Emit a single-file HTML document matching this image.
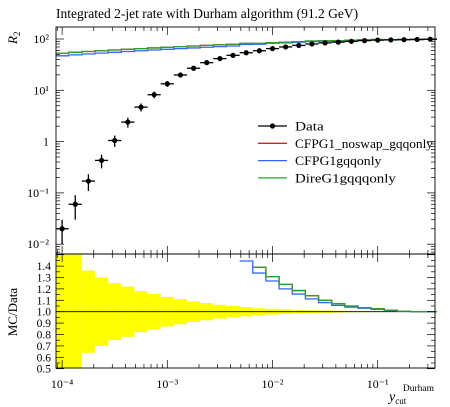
<!DOCTYPE html>
<html><head><meta charset="utf-8"><style>
body{margin:0;background:#fff;}
svg{display:block;font-family:"Liberation Serif",serif;}
</style></head><body>
<svg id="c" width="450" height="407" viewBox="0 0 450 407">
<text x="56" y="18" font-size="13.5">Integrated 2-jet rate with Durham algorithm (91.2 GeV)</text>
<text transform="translate(17,44) rotate(-90)" font-size="13" font-style="italic">R<tspan font-size="9" dy="3" font-style="normal">2</tspan></text>
<text transform="translate(17,312) rotate(-90)" font-size="13" text-anchor="middle">MC/Data</text>
<g>
<text x="389" y="401" font-size="14" font-style="italic">y<tspan font-size="9" dy="3" font-style="normal">cut</tspan></text>
<text x="434" y="391" font-size="9.5" text-anchor="end">Durham</text>
</g>
<g id="g"></g>
</svg>
<script>
const bins = [-4,-3.875,-3.75,-3.625,-3.5,-3.375,-3.25,-3.125,-3,-2.875,-2.75,-2.625,-2.5,-2.375,-2.25,-2.125,-2,-1.875,-1.75,-1.625,-1.5,-1.375,-1.25,-1.125,-1,-0.875,-0.75,-0.625,-0.5];
const dataVals = [0.02,0.06,0.17,0.43,1.05,2.4,4.7,8.2,13.4,19.9,26.9,34.6,41.5,48,54,59,65,70,75,80,84,87,90,93,95,96,97,98,99];
const dataErr = [0.5,0.5,0.36,0.3,0.25,0.22,0.18,0.155,0.13,0.11,0.09,0.075,0.06,0.05,0.04,0.03,0.025,0.02,0.015,0.012,0.01,0.008,0.006,0.005,0.004,0.003,0.003,0.002,0.002];
const mcBlue = [47,49,51,53,55,57,59,61,63,65,67,69,71,73,78,79,82.5,84,86.6,89,90.7,91.8,93.6,95.8,97,97,97.5,98,99];
const mcGreen = [53,55,57,59,61,63,65,67,69,71,73,75,77,79,82,82,85,86.8,88.9,91.2,92.4,93.1,94.5,96.3,97.4,97.2,97.5,98,99];
const mcRed = mcGreen.slice();
const yTicks = ["10⁻²","10⁻¹","1","10¹","10²"];
const rTicks = ["0.5","0.6","0.7","0.8","0.9","1.0","1.1","1.2","1.3","1.4"];
const xTicks = ["10⁻⁴","10⁻³","10⁻²","10⁻¹"];

const L=56,R=435,T=27,MB=254,RB=368;
const dec=105.2, x0=62.1;
const X=lg=>x0+(lg+4)*dec;
const Y=v=>39+(2-Math.log10(v))*51.3;
const YR=r=>311.7-(r-1)*114;
const g=document.getElementById('g');
const NS='http://www.w3.org/2000/svg';
function el(t,a,p){const e=document.createElementNS(NS,t);for(const k in a)e.setAttribute(k,a[k]);(p||g).appendChild(e);return e;}
const hw=0.0625;
bins.forEach((b,i)=>{
  const r=el('rect',{x:X(b-hw),width:X(b+hw)-X(b-hw),y:YR(Math.min(1.5,1+dataErr[i])),height:YR(Math.max(0.5,1-dataErr[i]))-YR(Math.min(1.5,1+dataErr[i])),fill:'#ffff00'});
  
  
});
el('line',{x1:L,x2:R,y1:YR(1),y2:YR(1),stroke:'#000','stroke-width':0.8});
function step(vals,col,yf,name,clipTop,clipBot){
  let d='';let pen=false;
  bins.forEach((b,i)=>{
    const v=vals[i];
    if(v>clipTop||v<clipBot){pen=false;return;}
    const y=yf(v);
    d+=(pen?'L':'M')+X(b-hw)+','+y+'L'+X(b+hw)+','+y;
    pen=true;
  });
  const p=el('path',{d:d,fill:'none',stroke:col,'stroke-width':1.3});
  
  
}
step(mcRed,'#e41a1c',Y,'series-cfpg1-noswap',1e9,0);
step(mcBlue,'#3366ff',Y,'series-cfpg1gqqonly',1e9,0);
step(mcGreen,'#2ca02c',Y,'series-direg1gqqonly',1e9,0);
step(mcRed.map((v,i)=>v/dataVals[i]),'#e41a1c',YR,'ratio-cfpg1-noswap',1.5,0.5);
step(mcBlue.map((v,i)=>v/dataVals[i]),'#3366ff',YR,'ratio-cfpg1gqqonly',1.5,0.5);
step(mcGreen.map((v,i)=>v/dataVals[i]),'#2ca02c',YR,'ratio-direg1gqqonly',1.5,0.5);
bins.forEach((b,i)=>{
  const v=dataVals[i],x=X(b),y=Y(v);
  const gp=el('g',{});
  
  
  el('line',{x1:X(b-hw),x2:X(b+hw),y1:y,y2:y,stroke:'#000','stroke-width':1.3},gp);
  el('line',{x1:x,x2:x,y1:Math.min(MB,Y(Math.max(1e-3,v*(1-dataErr[i])))),y2:Y(v*(1+dataErr[i])),stroke:'#000','stroke-width':1.3},gp);
  el('circle',{cx:x,cy:y,r:2.6,fill:'#000'},gp);
});
[[T,MB],[MB,RB]].forEach(([a,b])=>el('rect',{x:L,y:a,width:R-L,height:b-a,fill:'none',stroke:'#000','stroke-width':0.9}));
function xt(top,bot){
  for(let d=-5;d<=0;d++)for(let m=1;m<10;m++){
    const lg=d+Math.log10(m),x=X(lg);
    if(x<L||x>R)continue;
    const len=m==1?8:4;
    el('line',{x1:x,x2:x,y1:bot,y2:bot-len,stroke:'#000','stroke-width':0.7});
    el('line',{x1:x,x2:x,y1:top,y2:top+len,stroke:'#000','stroke-width':0.7});
  }
}
xt(T,MB);xt(MB,RB);
xTicks.forEach((t,i)=>{const e=el('text',{x:X(-4+i),y:388,'font-size':12,'text-anchor':'middle'});e.textContent=t;
});
for(let d=-3;d<=2;d++)for(let m=1;m<10;m++){
  const v=Math.pow(10,d)*m,y=Y(v);if(y<T||y>MB)continue;
  const len=m==1?8:4;
  el('line',{x1:L,x2:L+len,y1:y,y2:y,stroke:'#000','stroke-width':0.7});
  el('line',{x1:R,x2:R-len,y1:y,y2:y,stroke:'#000','stroke-width':0.7});
}
yTicks.forEach((t,i)=>{const e=el('text',{x:49,y:Y(Math.pow(10,i-2))+4,'font-size':12,'text-anchor':'end'});e.textContent=t;
});
for(let k=0;k<=20;k++){const r=0.5+k*0.05,y=YR(r);const len=k%2==0?8:4;
  el('line',{x1:L,x2:L+len,y1:y,y2:y,stroke:'#000','stroke-width':0.7});
  el('line',{x1:R,x2:R-len,y1:y,y2:y,stroke:'#000','stroke-width':0.7});}
rTicks.forEach((t,i)=>{const e=el('text',{x:51,y:YR(0.5+i*0.1)+4,'font-size':11.5,'text-anchor':'end'});e.textContent=t;
});
const leg=[['Data','#000',true],['CFPG1_noswap_gqqonly','#e41a1c'],['CFPG1gqqonly','#3366ff'],['DireG1gqqqonly','#2ca02c']];
leg.forEach((l,i)=>{const y=126+i*17.3;const gp=el('g',{});
  
  el('line',{x1:258,x2:287,y1:y,y2:y,stroke:l[1],'stroke-width':1.3},gp);
  if(l[2])el('circle',{cx:272.5,cy:y,r:2.6,fill:'#000'},gp);
  const t=el('text',{x:295,y:y+4.5,'font-size':13},gp);t.textContent=l[0];
  t.setAttribute('textLength',Math.min(l[0].length*7.2,138));t.setAttribute('lengthAdjust','spacingAndGlyphs');});
</script>
</body></html>
